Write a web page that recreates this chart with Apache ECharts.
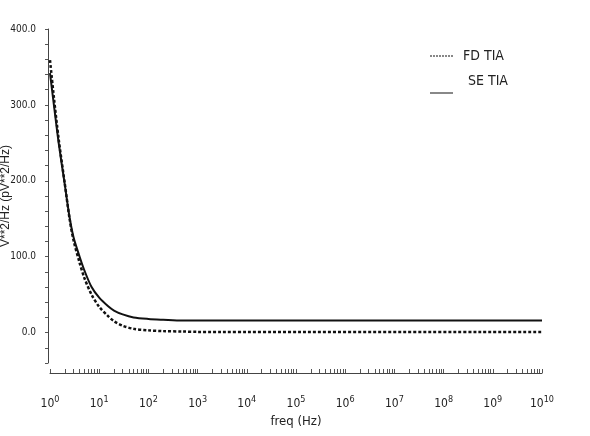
<!DOCTYPE html>
<html>
<head>
<meta charset="utf-8">
<script src="https://cdn.jsdelivr.net/npm/echarts@6/dist/echarts.min.js"></script>
<style>
  html, body { margin: 0; padding: 0; background: #fff; }
  #chart { width: 590px; height: 436px; }
</style>
</head>
<body>
<div id="chart"></div>
<script>
// frequency points (Hz), shared by both curves
const freq = [1, 1.2, 1.5, 2, 2.5, 3, 4, 5, 7, 10, 15, 20, 30, 50, 100, 200, 500, 1e3, 1e10];

// noise density (pV**2/Hz)
const fdTia = [359, 310, 255, 196, 150, 122, 92, 72, 50, 34, 22, 15, 9, 5, 3, 2, 1.5, 1, 1];
const seTia = [342, 300, 250, 195, 152, 126, 100, 82, 60, 46, 35, 29, 24, 20, 18, 17, 16, 16, 16];

const yLabels = [0, 100, 200, 300, 400];
const yTicks = [-40, -20, 0, 20, 40, 60, 80, 100, 120, 140, 160, 180, 200, 220, 240, 260, 280, 300, 320, 340, 360, 380, 400];
const xLabels = [1, 10, 100, 1e3, 1e4, 1e5, 1e6, 1e7, 1e8, 1e9, 1e10];

// log minor ticks: 1..9 in every decade, plus the last one
const xTicks = [];
for (let d = 0; d < 10; d++) {
  for (let k = 1; k < 10; k++) xTicks.push(k * Math.pow(10, d));
}
xTicks.push(1e10);

const FONT = "'DejaVu Sans Condensed', 'Liberation Sans Narrow', 'Liberation Sans', Arial, sans-serif";

// legend icons: dashed bar and solid bar
const DASH_ICON = 'path://M0,0h2v1h-2zM3,0h2v1h-2zM6,0h2v1h-2zM9,0h2v1h-2zM12,0h2v1h-2zM15,0h2v1h-2zM18,0h2v1h-2zM21,0h2v1h-2z';
const SOLID_ICON = 'path://M0,0h23v1h-23z';

const pairs = (ys) => freq.map((f, i) => [f, ys[i]]);

const chart = echarts.init(document.getElementById('chart'));

chart.setOption({
  animation: false,
  backgroundColor: '#fff',
  grid: { left: 50, right: 48, top: 29, bottom: 73, containLabel: false, outerBoundsMode: 'none' },
  legend: [
    {
      left: 425,
      top: 44,
      itemWidth: 23,
      itemHeight: 2,
      selectedMode: false,
      formatter: '{a|{name}}',
      textStyle: {
        rich: { a: { fontFamily: FONT, fontSize: 14, color: '#222', padding: [0, 0, 0, 5] } }
      },
      data: [{ name: 'FD TIA', icon: DASH_ICON, itemStyle: { color: '#111' } }]
    },
    {
      // SE TIA text sits above its line sample in the original
      left: 425,
      top: 69,
      itemWidth: 23,
      itemHeight: 2,
      selectedMode: false,
      formatter: '{a|{name}}',
      textStyle: {
        rich: { a: { fontFamily: FONT, fontSize: 14, color: '#222', padding: [0, 0, 24, 10] } }
      },
      data: [{ name: 'SE TIA', icon: SOLID_ICON, itemStyle: { color: '#111' } }]
    }
  ],
  xAxis: {
    type: 'log',
    logBase: 10,
    min: 1,
    max: 1e10,
    offset: 10,
    name: 'freq (Hz)',
    nameLocation: 'middle',
    nameGap: 42,
    nameMoveOverlap: false,
    nameTextStyle: { fontFamily: FONT, fontSize: 13, color: '#222' },
    axisLine: { onZero: false, lineStyle: { color: '#444', width: 1 } },
    axisTick: {
      inside: true,
      length: 4,
      customValues: xTicks,
      lineStyle: { color: '#555' }
    },
    axisLabel: {
      margin: 22,
      customValues: xLabels,
      formatter: (v) => '{b|10}{s|' + Math.round(Math.log10(v)) + '}',
      rich: {
        b: { fontFamily: FONT, fontSize: 12, color: '#222' },
        s: { fontFamily: FONT, fontSize: 9, color: '#222', verticalAlign: 'bottom', padding: [0, 0, 8, 0] }
      }
    },
    splitLine: { show: false }
  },
  yAxis: {
    type: 'value',
    min: -40,
    max: 400,
    offset: 2,
    name: 'V**2/Hz (pV**2/Hz)',
    nameLocation: 'middle',
    nameGap: 36,
    nameMoveOverlap: false,
    nameTextStyle: { fontFamily: 'Liberation Sans, Arial, sans-serif', fontSize: 12, color: '#222' },
    axisLine: { show: true, onZero: false, lineStyle: { color: '#444', width: 1 } },
    axisTick: {
      show: true,
      length: 3,
      customValues: yTicks,
      lineStyle: { color: '#555' }
    },
    axisLabel: {
      margin: 12,
      customValues: yLabels,
      formatter: (v) => v.toFixed(1),
      fontFamily: FONT,
      fontSize: 10,
      color: '#222'
    },
    splitLine: { show: false }
  },
  series: [
    {
      name: 'FD TIA',
      type: 'line',
      data: pairs(fdTia),
      smooth: 0.3,
      symbol: 'none',
      lineStyle: { color: '#111', width: 2.5, type: [3, 2] },
      itemStyle: { color: '#111' }
    },
    {
      name: 'SE TIA',
      type: 'line',
      data: pairs(seTia),
      smooth: 0.3,
      symbol: 'none',
      lineStyle: { color: '#111', width: 2 },
      itemStyle: { color: '#111' }
    }
  ]
});
</script>
</body>
</html>
